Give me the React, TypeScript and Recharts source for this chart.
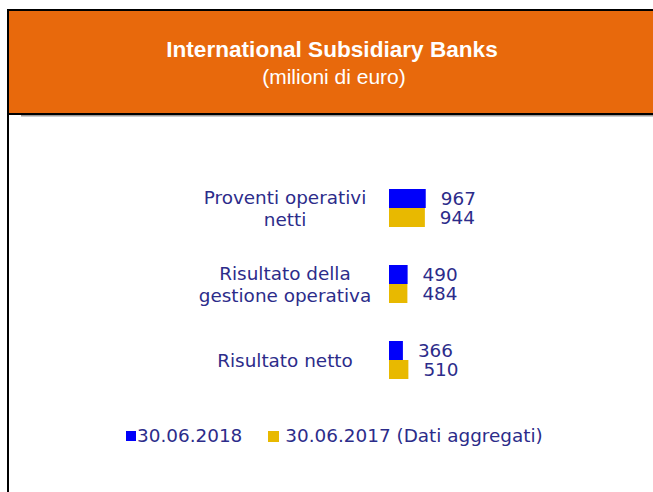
import React from "react";
import { BarChart, Bar, XAxis, YAxis, LabelList, Legend } from "recharts";

const categoryLines: string[][] = [
  ["Proventi operativi", "netti"],
  ["Risultato della", "gestione operativa"],
  ["Risultato netto"],
];
const categories: string[] = categoryLines.map((l) => l.join(" "));
const values2018: number[] = [967, 490, 366];
const values2017: number[] = [944, 484, 510];
const seriesNames: string[] = ["30.06.2018", "30.06.2017 (Dati aggregati)"];
const titleText = "International Subsidiary Banks";
const subtitleText = "(milioni di euro)";

const data = categories.map((c, i) => ({
  name: c,
  v2018: values2018[i],
  v2017: values2017[i],
}));

const BLUE = "#0000fa";
const YELLOW = "#e8b900";
const NAVY = "#2c2c8a";
const ORANGE = "#e8690c";
const FONT = "'DejaVu Sans', Verdana, sans-serif";
const FS = 18.4;

const CategoryTick = (props: any) => {
  const { x, y, payload } = props;
  const idx = categories.indexOf(payload.value);
  const lines = idx >= 0 ? categoryLines[idx] : [String(payload.value)];
  const cx = x - 104;
  const lh = 22;
  const n = lines.length;
  return (
    <text x={cx} y={y} textAnchor="middle" fill={NAVY} fontSize={FS} fontFamily={FONT}>
      {lines.map((ln, i) => (
        <tspan key={i} x={cx} y={y + 6.5 + (i - (n - 1) / 2) * lh}>
          {ln}
        </tspan>
      ))}
    </text>
  );
};

const LegendContent = () => (
  <div
    style={{
      display: "flex",
      alignItems: "center",
      fontFamily: FONT,
      fontSize: FS,
      color: NAVY,
      whiteSpace: "nowrap",
      lineHeight: "20px",
    }}
  >
    <span style={{ display: "inline-block", width: 10, height: 10, background: BLUE, marginLeft: 126, marginRight: 1 }} />
    <span>{seriesNames[0]}</span>
    <span style={{ display: "inline-block", width: 11, height: 11, background: YELLOW, marginLeft: 26, marginRight: 6 }} />
    <span>{seriesNames[1]}</span>
  </div>
);

export default function App() {
  return (
    <div style={{ position: "absolute", left: 0, top: 0, width: 653, height: 492, background: "#fff", overflow: "hidden" }}>
      <svg width={653} height={120} style={{ position: "absolute", left: 0, top: 0 }}>
        <rect x={7} y={9} width={646} height={106} fill="#000" />
        <rect x={9} y={11} width={644} height={102} fill={ORANGE} />
        <rect x={21} y={115} width={632} height={1.5} fill="#9a9a9a" />
        <text x={332} y={57} textAnchor="middle" fill="#fff" fontSize={22.6} fontWeight="bold" fontFamily="'Liberation Sans', Arial, sans-serif">
          {titleText}
        </text>
        <text x={334} y={83.5} textAnchor="middle" fill="#fff" fontSize={21} fontFamily="'Liberation Sans', Arial, sans-serif">
          {subtitleText}
        </text>
      </svg>
      <div style={{ position: "absolute", left: 7, top: 9, width: 2, height: 483, background: "#000" }} />
      <div style={{ position: "absolute", left: 0, top: 0 }}>
        <BarChart
          width={653}
          height={492}
          data={data}
          layout="vertical"
          margin={{ top: 170, right: 226, bottom: 94, left: 0 }}
          barSize={19}
          barGap={0}
        >
          <XAxis type="number" domain={[0, 1000]} hide />
          <YAxis
            type="category"
            dataKey="name"
            width={389}
            axisLine={false}
            tickLine={false}
            tickSize={0}
            tickMargin={0}
            tick={<CategoryTick />}
            interval={0}
          />
          <Legend
            layout="horizontal"
            verticalAlign="middle"
            align="center"
            content={<LegendContent />}
            wrapperStyle={{ position: "absolute", top: 426, left: 0, width: 653, height: 20 }}
          />
          <Bar dataKey="v2018" name={seriesNames[0]} fill={BLUE} isAnimationActive={false}>
            <LabelList dataKey="v2018" position="right" offset={15} fill={NAVY} fontSize={FS} fontFamily={FONT} />
          </Bar>
          <Bar dataKey="v2017" name={seriesNames[1]} fill={YELLOW} isAnimationActive={false}>
            <LabelList dataKey="v2017" position="right" offset={15} fill={NAVY} fontSize={FS} fontFamily={FONT} />
          </Bar>
        </BarChart>
      </div>
    </div>
  );
}
